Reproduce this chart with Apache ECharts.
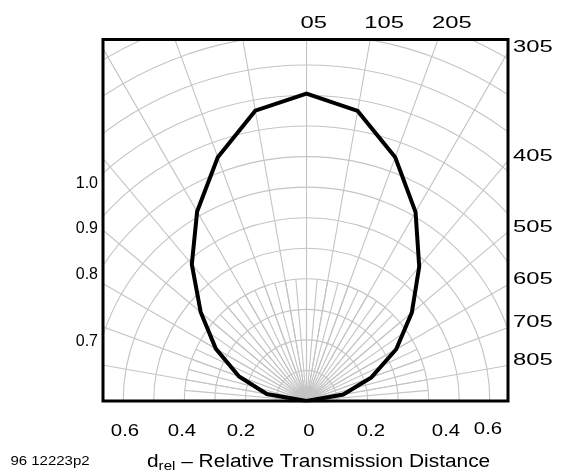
<!DOCTYPE html>
<html><head><meta charset="utf-8">
<script src="https://cdn.jsdelivr.net/npm/echarts@6/dist/echarts.min.js"></script>
<style>html,body{margin:0;padding:0;background:#fff}#c{width:570px;height:474px}</style>
</head><body><div id="c"></div>
<script>
// ---- data ----
const angles = [-90,-80,-70,-60,-50,-40,-30,-20,-10,0,10,20,30,40,50,60,70,80,90];
const dRel   = [0,0.132,0.235,0.343,0.452,0.584,0.716,0.849,0.965,1.006,0.964,0.849,0.714,0.574,0.45,0.339,0.226,0.122,0];
const radiusMin = 0, radiusMax = 1.4, radiusStep = 0.1;
const angleStep = 10, innerAngleStep = 5, innerRadius = 0.4;
const angleLabelAngles = [0,10,20,30,40,50,60,70,80];
const angleLabels = ['05','105','205','305','405','505','605','705','805'];
const leftLabels = ['1.0','0.9','0.8','0.7'];
const bottomLabels = ['0.6','0.4','0.2','0','0.2','0.4','0.6'];
const figureId = '96 12223p2';
const axisTitle = ['d','rel',' \u2013 Relative Transmission Distance'];

// ---- layout ----
const PX = 306.5, PY = 401, UNIT = 305.5;
const L = 103, R = 508, T = 39.5, B = 401;
const leftLabelY = [184, 229, 275, 342];
const bottomLabelX = [125, 182, 241, 309, 371, 446, 488];
const bottomLabelY = [431, 431, 431, 431, 431, 431, 429];
const FONT = 'Liberation Sans, Arial, sans-serif';
const GRID = '#c4c4c4';

const chart = echarts.init(document.getElementById('c'), null, {renderer:'canvas'});

const els = [];
// masks outside the frame
[[0,0,570,T-1],[0,0,L-1,474],[R+1,0,570-R,474],[0,B+1.5,570,474-B]].forEach(r=>{
  els.push({type:'rect', z:50, shape:{x:r[0],y:r[1],width:r[2],height:r[3]}, style:{fill:'#fff'}, silent:true});
});
els.push({type:'rect', z:60, shape:{x:L,y:T,width:R-L,height:B-T}, style:{fill:'none',stroke:'#000',lineWidth:3}});

function txt(t, x, y, align, vAlign, size, sx){
  els.push({type:'text', z:70, x:x, y:y, scaleX:sx||1, style:{text:t, fill:'#000', font: size+'px '+FONT, textAlign:align, textVerticalAlign:vAlign}});
}
// angle labels at the spoke ends
angleLabelAngles.forEach((a,i)=>{
  const t = Math.tan(a*Math.PI/180);
  const xTop = PX + (PY-T)*t;
  if (xTop <= R) {
    txt(angleLabels[i], xTop-6, 23, 'left', 'middle', 17, 1.4);
  } else {
    txt(angleLabels[i], R+5, PY - (R-PX)/t - 5, 'left', 'middle', 17, 1.4);
  }
});
leftLabels.forEach((t,i)=> txt(t, 98, leftLabelY[i], 'right', 'middle', 16, 1.0));
bottomLabels.forEach((t,i)=> txt(t, bottomLabelX[i], bottomLabelY[i], 'center', 'middle', 17, 1.2));
txt(figureId, 50, 462, 'center', 'middle', 12, 1.25);
els.push({type:'text', z:70, x:147, y:462, scaleX:1.16,
  style:{text:'{m|'+axisTitle[0]+'}{s|'+axisTitle[1]+'}{m|'+axisTitle[2]+'}', fill:'#000', textAlign:'left', textVerticalAlign:'middle',
    rich:{m:{fontSize:18, fontFamily:FONT, lineHeight:22, verticalAlign:'middle'},
          s:{fontSize:13, fontFamily:FONT, lineHeight:13, verticalAlign:'bottom'}}}});

const hidden = {show:false};
chart.setOption({
  animation:false,
  backgroundColor:'#fff',
  polar:[
    {center:[PX,PY], radius: radiusMax*UNIT},
    {center:[PX,PY], radius: innerRadius*UNIT}
  ],
  angleAxis:[
    {polarIndex:0, type:'value', min:-180, max:180, interval:angleStep, startAngle:270, clockwise:true,
     axisLine:hidden, axisTick:hidden, axisLabel:hidden, splitLine:{show:true, lineStyle:{color:GRID,width:1.1}}},
    {polarIndex:1, type:'value', min:-180, max:180, interval:innerAngleStep, startAngle:270, clockwise:true,
     axisLine:hidden, axisTick:hidden, axisLabel:hidden, splitLine:{show:true, lineStyle:{color:GRID,width:1.1}}}
  ],
  radiusAxis:[
    {polarIndex:0, type:'value', min:radiusMin, max:radiusMax, interval:radiusStep,
     axisLine:hidden, axisTick:hidden, axisLabel:hidden, splitLine:{show:true, lineStyle:{color:GRID,width:1.1}}},
    {polarIndex:1, type:'value', min:0, max:innerRadius,
     axisLine:hidden, axisTick:hidden, axisLabel:hidden, splitLine:hidden}
  ],
  series:[{
    type:'line', coordinateSystem:'polar', polarIndex:0, z:10,
    data: angles.map((a,i)=>[dRel[i], a]),
    symbol:'none', lineStyle:{color:'#000', width:4, join:'miter'}
  }],
  graphic:{elements:els}
});
</script></body></html>
